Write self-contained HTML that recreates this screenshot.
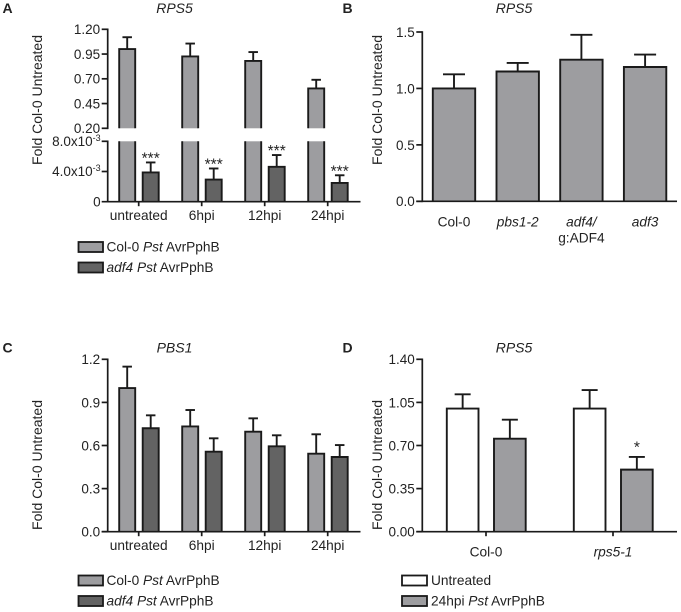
<!DOCTYPE html>
<html lang="en">
<head>
<meta charset="utf-8">
<title>Fold Col-0 Untreated charts</title>
<style>
html,body{margin:0;padding:0;background:#fff;}
svg{display:block;}
text{font-family:"Liberation Sans",sans-serif;fill:#222;}
</style>
</head>
<body>
<svg id="chart" xmlns="http://www.w3.org/2000/svg" width="681" height="612" viewBox="0 0 681 612">
  <rect x="0" y="0" width="681" height="612" fill="#fff"/>

  <text x="2.5" y="13" font-size="14" font-weight="bold" fill="#111">A</text>
  <text x="342.5" y="13" font-size="14" font-weight="bold" fill="#111">B</text>
  <text x="2.5" y="352.5" font-size="14" font-weight="bold" fill="#111">C</text>
  <text x="342.5" y="352.5" font-size="14" font-weight="bold" fill="#111">D</text>

  <text x="174.5" y="13" font-size="14" font-style="italic" text-anchor="middle">RPS5</text>
  <text x="514" y="13" font-size="14" font-style="italic" text-anchor="middle">RPS5</text>
  <text x="174.5" y="352.5" font-size="14" font-style="italic" text-anchor="middle">PBS1</text>
  <text x="514" y="352.5" font-size="14" font-style="italic" text-anchor="middle">RPS5</text>

  <text transform="translate(42,100) rotate(-90)" font-size="14" text-anchor="middle">Fold Col-0 Untreated</text>
  <text transform="translate(382,100) rotate(-90)" font-size="14" text-anchor="middle">Fold Col-0 Untreated</text>
  <text transform="translate(42,465) rotate(-90)" font-size="14" text-anchor="middle">Fold Col-0 Untreated</text>
  <text transform="translate(382,465) rotate(-90)" font-size="14" text-anchor="middle">Fold Col-0 Untreated</text>

  <g>
    <rect x="78.5" y="242" width="24.5" height="10" fill="#9d9da0" stroke="#1a1a1a" stroke-width="1.8"/>
    <text x="106.5" y="251.5" font-size="13.7">Col-0 <tspan font-style="italic">Pst</tspan> AvrPphB</text>
    <rect x="78.5" y="262.5" width="24.5" height="10" fill="#636363" stroke="#1a1a1a" stroke-width="1.8"/>
    <text x="106.5" y="272" font-size="13.7"><tspan font-style="italic">adf4 Pst</tspan> AvrPphB</text>
  </g>
  <g>
    <rect x="78.5" y="575.5" width="24.5" height="10" fill="#9d9da0" stroke="#1a1a1a" stroke-width="1.8"/>
    <text x="106.5" y="585" font-size="13.7">Col-0 <tspan font-style="italic">Pst</tspan> AvrPphB</text>
    <rect x="78.5" y="596" width="24.5" height="10" fill="#636363" stroke="#1a1a1a" stroke-width="1.8"/>
    <text x="106.5" y="605.5" font-size="13.7"><tspan font-style="italic">adf4 Pst</tspan> AvrPphB</text>
  </g>
  <g>
    <rect x="402" y="575.5" width="25" height="10" fill="#fff" stroke="#1a1a1a" stroke-width="1.8"/>
    <text x="431" y="585" font-size="13.7">Untreated</text>
    <rect x="402" y="596" width="25" height="10" fill="#9d9da0" stroke="#1a1a1a" stroke-width="1.8"/>
    <text x="431" y="605.5" font-size="13.7">24hpi <tspan font-style="italic">Pst</tspan> AvrPphB</text>
  </g>
</svg>
<script>
// Panel A data
var aCategories = ["untreated", "6hpi", "12hpi", "24hpi"];
var aCol0 = [1.0, 0.926, 0.88, 0.603];
var aCol0Err = [1.12, 1.056, 0.97, 0.69];
var aAdf4 = [0.00387, 0.00293, 0.00462, 0.00249];
var aAdf4Err = [0.0052, 0.0044, 0.00618, 0.0035];
var aUpperTicks = [0.20, 0.45, 0.70, 0.95, 1.20];
var aUpperTickLabels = ["0.20", "0.45", "0.70", "0.95", "1.20"];
var aLowerTicks = [0, 0.004, 0.008];
var aLowerTickLabels = ["0", "4.0x10", "8.0x10"];
var aStars = ["***", "***", "***", "***"];

// Panel B data
var bCategories = ["Col-0", "pbs1-2", "adf4/", "adf3"];
var bCategoriesLine2 = ["", "", "g:ADF4", ""];
var bItalic = [false, true, true, true];
var bValues = [1.0, 1.15, 1.255, 1.19];
var bErr = [1.125, 1.226, 1.475, 1.30];
var bTicks = [0, 0.5, 1.0, 1.5];
var bTickLabels = ["0.0", "0.5", "1.0", "1.5"];

// Panel C data
var cCategories = ["untreated", "6hpi", "12hpi", "24hpi"];
var cCol0 = [1.0, 0.733, 0.696, 0.543];
var cCol0Err = [1.149, 0.847, 0.789, 0.678];
var cAdf4 = [0.72, 0.557, 0.594, 0.52];
var cAdf4Err = [0.81, 0.65, 0.671, 0.603];
var cTicks = [0, 0.3, 0.6, 0.9, 1.2];
var cTickLabels = ["0.0", "0.3", "0.6", "0.9", "1.2"];

// Panel D data
var dCategories = ["Col-0", "rps5-1"];
var dItalic = [false, true];
var dUntreated = [1.0, 1.0];
var dUntreatedErr = [1.116, 1.15];
var dTreated = [0.755, 0.504];
var dTreatedErr = [0.91, 0.607];
var dTicks = [0, 0.35, 0.70, 1.05, 1.40];
var dTickLabels = ["0.00", "0.35", "0.70", "1.05", "1.40"];
var dStars = ["", "*"];

var NS = "http://www.w3.org/2000/svg";
var svg = document.getElementById("chart");
var INK = "#1a1a1a";
var LIGHT = "#9d9da0";
var DARK = "#636363";
var TICK_FONT = 13.5;
var XLABEL_FONT = 13.7;
var STAR_FONT = 15.5;
var AXIS_W = 1.7;
var BAR_W = 1.9;

function linear(d0, d1, r0, r1) {
  return function (v) { return r0 + (v - d0) / (d1 - d0) * (r1 - r0); };
}
function line(parent, name, x1, y1, x2, y2, w) {
  var el = document.createElementNS(NS, "line");
  el.setAttribute("x1", x1);
  el.setAttribute("y1", y1);
  el.setAttribute("x2", x2);
  el.setAttribute("y2", y2);
  el.setAttribute("stroke", INK);
  el.setAttribute("stroke-width", w || AXIS_W);
  
  
  parent.appendChild(el);
  return el;
}
function label(parent, name, x, y, str, size, anchor, italic) {
  var el = document.createElementNS(NS, "text");
  el.setAttribute("x", x);
  el.setAttribute("y", y);
  el.setAttribute("font-size", size);
  el.setAttribute("text-anchor", anchor);
  if (italic) el.setAttribute("font-style", "italic");
  el.textContent = str;
  
  
  parent.appendChild(el);
  return el;
}
function group(name) {
  var g = document.createElementNS(NS, "g");
  
  
  svg.appendChild(g);
  return g;
}
// open-bottom bar outline segment between two pixel y values
function barSegment(parent, name, x0, x1, top, bottom, fill, closedTop) {
  var r = document.createElementNS(NS, "rect");
  r.setAttribute("x", x0);
  r.setAttribute("y", top);
  r.setAttribute("width", x1 - x0);
  r.setAttribute("height", Math.max(0, bottom - top));
  r.setAttribute("fill", fill);
  
  
  parent.appendChild(r);
  var p = document.createElementNS(NS, "path");
  p.setAttribute("d", closedTop
    ? "M" + x0 + " " + bottom + "V" + top + "H" + x1 + "V" + bottom
    : "M" + x0 + " " + top + "V" + bottom + "M" + x1 + " " + top + "V" + bottom);
  p.setAttribute("fill", "none");
  p.setAttribute("stroke", INK);
  p.setAttribute("stroke-width", BAR_W);
  
  
  parent.appendChild(p);
}
function errorBar(parent, name, cx, yBar, yErr, cap) {
  line(parent, name + "-stem", cx, yBar, cx, yErr, BAR_W);
  line(parent, name + "-cap", cx - cap / 2, yErr, cx + cap / 2, yErr, BAR_W);
}
function ticks(parent, name, axisX, values, labels, scale, size) {
  values.forEach(function (v, i) {
    var y = scale(v);
    line(parent, name + "-tick", axisX - 6, y, axisX, y, AXIS_W);
    label(parent, name + "-tick-label", axisX - 7.5, y + 4.9, labels[i], size, "end", false);
  });
}
function addExponent(el) {
  var t = document.createElementNS(NS, "tspan");
  t.setAttribute("font-size", "9");
  t.setAttribute("dy", "-5");
  t.textContent = "-3";
  el.appendChild(t);
}

/* ---------- Panel A (broken axis) ---------- */
(function () {
  var g = group("panel-a-chart");
  var axisX = 107.7;
  var yU = linear(0.2, 1.2, 128.3, 29.3);
  var yL = linear(0, 0.008, 201.7, 141.3);
  var xGroup = function (i) { return 138.7 + i * 63; };
  aCategories.forEach(function (c, i) {
    var cx = xGroup(i);
    var lx0 = cx - 19.5, lx1 = cx - 3.5, dx0 = cx + 4, dx1 = cx + 20;
    barSegment(g, "bar-col-0-" + c + "-upper", lx0, lx1, yU(aCol0[i]), yU(0.2), LIGHT, true);
    barSegment(g, "bar-col-0-" + c + "-lower", lx0, lx1, yL(0.008), yL(0), LIGHT, false);
    errorBar(g, "error-col-0-" + c, (lx0 + lx1) / 2, yU(aCol0[i]), yU(aCol0Err[i]), 9.5);
    barSegment(g, "bar-adf4-" + c, dx0, dx1, yL(aAdf4[i]), yL(0), DARK, true);
    errorBar(g, "error-adf4-" + c, (dx0 + dx1) / 2, yL(aAdf4[i]), yL(aAdf4Err[i]), 9.5);
    label(g, "significance-" + c, (dx0 + dx1) / 2, yL(aAdf4Err[i]) + 1, aStars[i], STAR_FONT, "middle", false);
    line(g, "x-tick-" + c, cx, yL(0), cx, yL(0) + 4.5, AXIS_W);
    label(g, "x-label-" + c, cx, 220, c, XLABEL_FONT, "middle", false);
  });
  line(g, "y-axis-upper", axisX, yU(1.2) - 0.8, axisX, yU(0.2) + 0.8, AXIS_W);
  line(g, "y-axis-lower", axisX, yL(0.008) - 0.8, axisX, yL(0) + 0.8, AXIS_W);
  line(g, "x-axis", axisX - 6, yL(0), 360.5, yL(0), AXIS_W);
  ticks(g, "y-upper", axisX, aUpperTicks, aUpperTickLabels, yU, TICK_FONT);
  aLowerTicks.forEach(function (v, i) {
    var y = yL(v);
    if (v !== 0) line(g, "y-lower-tick", axisX - 6, y, axisX, y, AXIS_W);
    var el = label(g, "y-lower-tick-label", axisX - 7, y + 4.7, aLowerTickLabels[i], TICK_FONT, "end", false);
    if (v !== 0) addExponent(el);
  });
})();

/* ---------- Panel B ---------- */
(function () {
  var g = group("panel-b-chart");
  var axisX = 422.3;
  var y = linear(0, 1.5, 201.3, 32);
  bCategories.forEach(function (c, i) {
    var cx = 454 + i * 63.7;
    var x0 = cx - 21.2, x1 = cx + 21.2;
    barSegment(g, "bar-" + c, x0, x1, y(bValues[i]), y(0), LIGHT, true);
    errorBar(g, "error-" + c, cx, y(bValues[i]), y(bErr[i]), 22);
    label(g, "x-label-" + c, cx, 226.7, c, XLABEL_FONT, "middle", bItalic[i]);
    if (bCategoriesLine2[i]) label(g, "x-label-line2-" + c, cx, 242.7, bCategoriesLine2[i], XLABEL_FONT, "middle", false);
  });
  line(g, "y-axis", axisX, y(1.5) - 0.8, axisX, y(0) + 0.8, AXIS_W);
  line(g, "x-axis", axisX - 6, y(0), 677, y(0), AXIS_W);
  ticks(g, "y", axisX, bTicks, bTickLabels, y, TICK_FONT);
})();

/* ---------- Panel C ---------- */
(function () {
  var g = group("panel-c-chart");
  var axisX = 107.7;
  var y = linear(0, 1.2, 531.7, 359.3);
  cCategories.forEach(function (c, i) {
    var cx = 138.7 + i * 63;
    var lx0 = cx - 19.5, lx1 = cx - 3.5, dx0 = cx + 4, dx1 = cx + 20;
    barSegment(g, "bar-col-0-" + c, lx0, lx1, y(cCol0[i]), y(0), LIGHT, true);
    errorBar(g, "error-col-0-" + c, (lx0 + lx1) / 2, y(cCol0[i]), y(cCol0Err[i]), 9.5);
    barSegment(g, "bar-adf4-" + c, dx0, dx1, y(cAdf4[i]), y(0), DARK, true);
    errorBar(g, "error-adf4-" + c, (dx0 + dx1) / 2, y(cAdf4[i]), y(cAdf4Err[i]), 9.5);
    line(g, "x-tick-" + c, cx, y(0), cx, y(0) + 4.5, AXIS_W);
    label(g, "x-label-" + c, cx, 550, c, XLABEL_FONT, "middle", false);
  });
  line(g, "y-axis", axisX, y(1.2) - 0.8, axisX, y(0) + 0.8, AXIS_W);
  line(g, "x-axis", axisX - 6, y(0), 360.5, y(0), AXIS_W);
  ticks(g, "y", axisX, cTicks, cTickLabels, y, TICK_FONT);
})();

/* ---------- Panel D ---------- */
(function () {
  var g = group("panel-d-chart");
  var axisX = 422.3;
  var y = linear(0, 1.4, 531.7, 359.3);
  dCategories.forEach(function (c, i) {
    var cx = 486 + i * 127;
    var ux0 = cx - 39.2, ux1 = cx - 7.5, tx0 = cx + 8, tx1 = cx + 39.7;
    barSegment(g, "bar-untreated-" + c, ux0, ux1, y(dUntreated[i]), y(0), "#fff", true);
    errorBar(g, "error-untreated-" + c, (ux0 + ux1) / 2, y(dUntreated[i]), y(dUntreatedErr[i]), 16);
    barSegment(g, "bar-24hpi-" + c, tx0, tx1, y(dTreated[i]), y(0), LIGHT, true);
    errorBar(g, "error-24hpi-" + c, (tx0 + tx1) / 2, y(dTreated[i]), y(dTreatedErr[i]), 16);
    if (dStars[i]) label(g, "significance-" + c, (tx0 + tx1) / 2, y(dTreatedErr[i]) - 4.3, dStars[i], STAR_FONT, "middle", false);
    line(g, "x-tick-" + c, cx, y(0), cx, y(0) + 4.5, AXIS_W);
    label(g, "x-label-" + c, cx, 556.7, c, XLABEL_FONT, "middle", dItalic[i]);
  });
  line(g, "y-axis", axisX, y(1.4) - 0.8, axisX, y(0) + 0.8, AXIS_W);
  line(g, "x-axis", axisX - 6, y(0), 677, y(0), AXIS_W);
  ticks(g, "y", axisX, dTicks, dTickLabels, y, TICK_FONT);
})();
</script>
</body>
</html>
